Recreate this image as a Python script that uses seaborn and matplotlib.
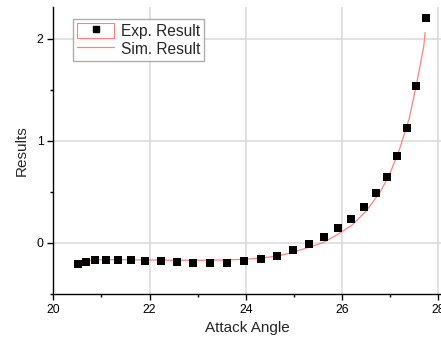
import numpy as np
import pandas as pd
import matplotlib
matplotlib.use("Agg")
import matplotlib.pyplot as plt
import seaborn as sns
from matplotlib.lines import Line2D
from matplotlib.patches import Rectangle
from matplotlib.legend_handler import HandlerTuple

# ---- data ----
exp_angle = [20.51, 20.68, 20.87, 21.10, 21.34, 21.61, 21.91, 22.23, 22.57,
             22.90, 23.25, 23.61, 23.97, 24.31, 24.65, 24.99, 25.32, 25.62,
             25.92, 26.19, 26.46, 26.70, 26.93, 27.14, 27.35, 27.54, 27.74]
exp_result = [-0.21, -0.185, -0.17, -0.166, -0.166, -0.17, -0.176, -0.18, -0.19,
              -0.20, -0.20, -0.195, -0.18, -0.16, -0.124, -0.072, -0.013, 0.059,
              0.143, 0.237, 0.351, 0.488, 0.644, 0.852, 1.128, 1.535, 2.198]

sim_angle = [20.5, 21.0, 21.5, 22.0, 22.5, 23.0, 23.5, 24.0, 24.4, 24.8, 25.2,
             25.6, 25.9, 26.2, 26.5, 26.8, 27.0, 27.2, 27.4, 27.55, 27.7, 27.73]
sim_result = [-0.18, -0.165, -0.165, -0.168, -0.17, -0.17, -0.168, -0.16, -0.145,
              -0.115, -0.06, 0.0, 0.08, 0.17, 0.31, 0.50, 0.68, 0.92, 1.22,
              1.55, 1.92, 2.06]

x_ticks = [20, 22, 24, 26, 28]
y_ticks = [0, 1, 2]

df_exp = pd.DataFrame({'Attack Angle': exp_angle, 'Results': exp_result})
df_sim = pd.DataFrame({'Attack Angle': sim_angle, 'Results': sim_result})

sns.set_theme(style="ticks")
plt.rcParams['font.family'] = ['Liberation Sans', 'DejaVu Sans']

fig = plt.figure(figsize=(4.41, 3.45), dpi=100)
ax = fig.add_axes([0.1209, 0.148, 1.0 - 0.1209, 0.832])

line_color = '#ff8080'
sns.lineplot(data=df_sim, x='Attack Angle', y='Results', ax=ax,
             color=line_color, linewidth=0.9, zorder=2)
sns.scatterplot(data=df_exp, x='Attack Angle', y='Results', ax=ax,
                marker='s', color='black', s=26, edgecolor='black',
                linewidth=0, zorder=3)

ax.set_xlim(20, 28.06)
ax.set_ylim(-0.5, 2.31)
ax.set_xticks(x_ticks)
ax.set_yticks(y_ticks)
ax.set_xticks(np.arange(21, 28, 2), minor=True)
ax.set_yticks([-0.5, 0.5, 1.5], minor=True)

ax.grid(True, which='major', color='#dddddd', linewidth=1.2)
ax.set_axisbelow(True)
for side in ['top', 'right']:
    ax.spines[side].set_visible(False)
for side in ['left', 'bottom']:
    ax.spines[side].set_color('black')
    ax.spines[side].set_linewidth(1.0)

ax.tick_params(which='major', direction='out', length=4, width=1,
               labelsize=8.8, colors='black', pad=3)
ax.tick_params(which='minor', direction='out', length=2, width=1, colors='black')

ax.set_xlabel('Attack Angle', fontsize=11, labelpad=4)
ax.set_ylabel('Results', fontsize=11, labelpad=6)

exp_handle = (Rectangle((0, 0), 1, 1, facecolor='none', edgecolor=line_color, linewidth=0.8),
              Line2D([], [], marker='s', color='black', linestyle='none', markersize=4.5))
sim_handle = Line2D([], [], color=line_color, linewidth=0.9)
leg = ax.legend([exp_handle, sim_handle], ['Exp. Result', 'Sim. Result'],
                handler_map={tuple: HandlerTuple(ndivide=1)},
                loc='upper left', bbox_to_anchor=(0.051, 0.958), borderaxespad=0,
                fontsize=11.2, frameon=True, fancybox=False, edgecolor='#999999',
                handlelength=2.4, handleheight=1.1, handletextpad=0.4,
                labelspacing=0.15, borderpad=0.25)
leg.get_frame().set_linewidth(1.0)

fig.savefig('out.png', dpi=100)
